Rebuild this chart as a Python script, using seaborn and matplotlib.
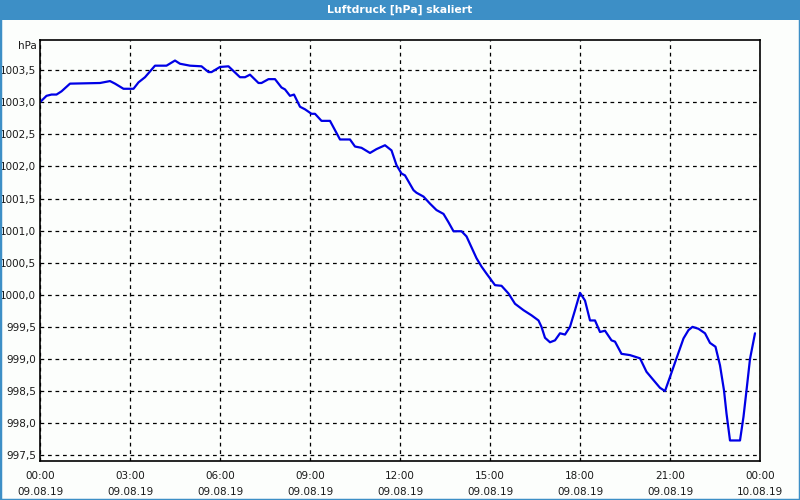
import matplotlib
matplotlib.use("Agg")
import matplotlib.pyplot as plt
import seaborn as sns
import pandas as pd
from matplotlib.patches import Rectangle

# ---- data ----
minutes = [0, 13, 23, 33, 43, 60, 120, 140, 150, 167, 187, 197, 210, 230, 253, 270, 280, 300,
           323, 337, 343, 360, 377, 400, 410, 420, 437, 443, 457, 470, 483, 490, 500, 508,
           520, 530, 543, 550, 563, 580, 600, 620, 630, 643, 660, 673, 690, 703, 713, 723,
           730, 747, 753, 767, 780, 793, 807, 817, 827, 843, 853, 863, 873, 883, 893, 910,
           923, 937, 950, 967, 983, 997, 1003, 1010, 1020, 1030, 1040, 1050, 1060, 1070,
           1080, 1090, 1100, 1110, 1120, 1130, 1143, 1150, 1163, 1180, 1200, 1213, 1227,
           1240, 1250, 1260, 1273, 1287, 1297, 1305, 1317, 1330, 1340, 1351, 1360, 1368,
           1373, 1380, 1400, 1407, 1413, 1420, 1430]
pressure = [1003.00, 1003.10, 1003.12, 1003.12, 1003.17, 1003.29, 1003.30, 1003.33, 1003.29,
            1003.21, 1003.21, 1003.31, 1003.39, 1003.57, 1003.57, 1003.65, 1003.60, 1003.57,
            1003.56, 1003.47, 1003.47, 1003.55, 1003.56, 1003.39, 1003.39, 1003.43, 1003.30,
            1003.30, 1003.36, 1003.36, 1003.23, 1003.20, 1003.10, 1003.12,
            1002.93, 1002.89, 1002.82, 1002.82, 1002.71, 1002.71, 1002.42, 1002.42, 1002.31,
            1002.29, 1002.21, 1002.27, 1002.33, 1002.25, 1002.02, 1001.89,
            1001.86, 1001.63, 1001.59, 1001.53, 1001.42, 1001.32, 1001.26, 1001.13, 1000.99,
            1000.99, 1000.91, 1000.74, 1000.57, 1000.44, 1000.33, 1000.15,
            1000.14, 1000.02, 999.86, 999.76, 999.68, 999.60, 999.50, 999.33, 999.26, 999.29,
            999.40, 999.38, 999.50, 999.76,
            1000.03, 999.91, 999.60, 999.60, 999.42, 999.44, 999.29, 999.27, 999.08, 999.06,
            999.01, 998.80, 998.67,
            998.55, 998.50, 998.72, 999.01, 999.32, 999.45, 999.50, 999.47, 999.40, 999.25,
            999.19, 998.90, 998.51,
            998.15, 997.73, 997.73, 998.10, 998.51, 999.00, 999.40]
x_tick_hours = [0, 3, 6, 9, 12, 15, 18, 21, 24]
x_tick_labels = ["00:00\n09.08.19", "03:00\n09.08.19", "06:00\n09.08.19", "09:00\n09.08.19",
                 "12:00\n09.08.19", "15:00\n09.08.19", "18:00\n09.08.19", "21:00\n09.08.19",
                 "00:00\n10.08.19"]
y_ticks = [997.5, 998.0, 998.5, 999.0, 999.5, 1000.0, 1000.5, 1001.0, 1001.5, 1002.0,
           1002.5, 1003.0, 1003.5]
y_tick_labels = ["997,5", "998,0", "998,5", "999,0", "999,5", "1000,0", "1000,5", "1001,0",
                 "1001,5", "1002,0", "1002,5", "1003,0", "1003,5"]
title = "Luftdruck [hPa] skaliert"
unit = "hPa"

df = pd.DataFrame({"hour": [m / 60 for m in minutes], "hPa": pressure})

sns.set_style("white")
plt.rcParams["font.family"] = ["DejaVu Sans"]

BG = "#FCFEFC"
BAR = "#3D8FC6"
TXT = "#1A1A1A"
fig = plt.figure(figsize=(8, 5), dpi=100, facecolor=BG)
ax = fig.add_axes([40 / 800, 39 / 500, 720 / 800, 421 / 500])
ax.set_facecolor(BG)

sns.lineplot(data=df, x="hour", y="hPa", ax=ax, color="#0000E6", linewidth=1.6)

ax.set_xlim(0, 24)
ax.set_ylim(997.41, 1003.97)
ax.set_xticks(x_tick_hours)
ax.set_xticklabels(x_tick_labels, fontsize=7.5, linespacing=1.75, color=TXT)
ax.set_xticks(range(0, 25), minor=True)
ax.set_yticks(y_ticks)
ax.set_yticklabels(y_tick_labels, fontsize=7.5, color=TXT)
ax.tick_params(axis="x", which="both", direction="out", length=4, width=0.8, color="black", pad=3)
ax.tick_params(axis="y", length=0, pad=3)
ax.set_xlabel("")
ax.set_ylabel("")

ax.grid(True, which="major", color="black", linestyle=(0, (3, 3)), linewidth=0.9)
for s in ax.spines.values():
    s.set_color("black")
    s.set_linewidth(1.2)

ax.text(-0.004, 1 - 6 / 421, unit, transform=ax.transAxes, ha="right", va="center",
        fontsize=7.5, color=TXT)

# title bar and window frame
fig.patches.append(Rectangle((0, 480 / 500), 1, 20 / 500, transform=fig.transFigure,
                             facecolor=BAR, edgecolor="none", zorder=0))
fig.patches.append(Rectangle((0, 0), 1, 1, transform=fig.transFigure,
                             facecolor="none", edgecolor=BAR, linewidth=2.5, zorder=5))
fig.text(0.5, 490 / 500, title, color="white", fontsize=7.8, fontweight="bold",
         ha="center", va="center")

fig.savefig("out.png", dpi=100, facecolor=BG)
